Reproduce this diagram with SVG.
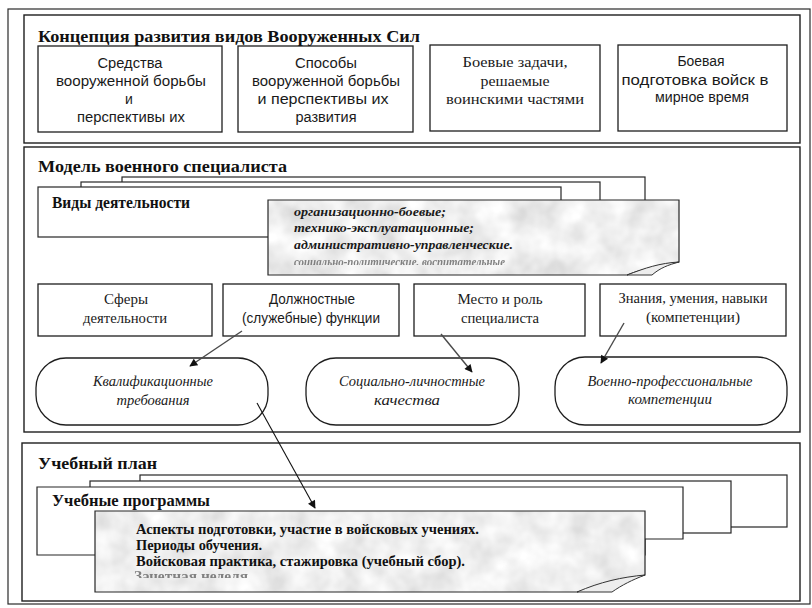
<svg xmlns="http://www.w3.org/2000/svg" width="812" height="608" viewBox="0 0 812 608">
<defs>
<style>
.frame{fill:none;stroke:#2a2a2a;stroke-width:1.2}
.sec{fill:#fff;stroke:#1e1e1e;stroke-width:1.4}
.box{fill:#fff;stroke:#1e1e1e;stroke-width:1.3}
.card{fill:#fff;stroke:#262626;stroke-width:1.2}
.gray{fill:#000;filter:url(#tex)}
.gout{fill:none;stroke:#262626;stroke-width:1.2}
.flap{fill:#ededed;stroke:#333;stroke-width:1}
.h{font-family:"Liberation Serif","Times New Roman",serif;font-weight:bold;font-size:16px;fill:#111}
.sn{font-family:"Liberation Sans",Arial,sans-serif;font-size:14px;fill:#1a1a1a;text-anchor:middle}
.sr{font-family:"Liberation Serif","Times New Roman",serif;font-size:15px;fill:#1a1a1a;text-anchor:middle}
.it{font-family:"Liberation Serif","Times New Roman",serif;font-style:italic;font-size:14px;fill:#1a1a1a;text-anchor:middle}
.gi{font-family:"Liberation Serif","Times New Roman",serif;font-style:italic;font-weight:bold;font-size:13px;fill:#1a1a1a}
.gb{font-family:"Liberation Serif","Times New Roman",serif;font-weight:bold;font-size:14px;fill:#111}
.faint{fill:#666;opacity:0.8}
.conn{fill:none;stroke:#4a4a4a;stroke-width:1.4}
.conn2{fill:none;stroke:#111;stroke-width:1.1}
</style>
<filter id="tex" x="0" y="0" width="1" height="1">
<feTurbulence type="fractalNoise" baseFrequency="0.035" numOctaves="3" seed="5" result="n"/>
<feColorMatrix in="n" type="matrix" values="0.45 0 0 0 0.64  0.45 0 0 0 0.64  0.45 0 0 0 0.64  0 0 0 0 1" result="g"/>
<feComposite in="g" in2="SourceGraphic" operator="in"/>
</filter>
<clipPath id="c1"><rect x="268" y="200" width="411" height="65"/></clipPath>
<clipPath id="c2"><rect x="95" y="511" width="551" height="67"/></clipPath>
<marker id="ah" viewBox="0 0 10 10" refX="9" refY="5" markerWidth="11" markerHeight="8" markerUnits="userSpaceOnUse" orient="auto">
<path d="M0,0 L10,5 L0,10 z" fill="#111"/>
</marker>
</defs>
<rect width="812" height="608" fill="#fff"/>
<rect class="frame" x="8" y="9" width="802" height="595"/>

<g id="section-concept">
<rect class="sec" x="24" y="15" width="776" height="128"/>
<text class="h" x="38" y="42" textLength="382" lengthAdjust="spacingAndGlyphs">Концепция развития видов Вооруженных Сил</text>
</g>
<g id="node-sredstva">
<rect class="box" x="38" y="46" width="184" height="86"/>
<text class="sn" x="130" y="68" textLength="65" lengthAdjust="spacingAndGlyphs">Средства</text>
<text class="sn" x="131" y="86" textLength="150" lengthAdjust="spacingAndGlyphs">вооруженной борьбы</text>
<text class="sn" x="129" y="104">и</text>
<text class="sn" x="131" y="122" textLength="108" lengthAdjust="spacingAndGlyphs">перспективы их</text>
</g>
<g id="node-sposoby">
<rect class="box" x="238" y="46" width="175" height="86"/>
<text class="sn" x="326" y="68" textLength="62" lengthAdjust="spacingAndGlyphs">Способы</text>
<text class="sn" x="326" y="86" textLength="148" lengthAdjust="spacingAndGlyphs">вооруженной борьбы</text>
<text class="sn" x="323" y="104" textLength="131" lengthAdjust="spacingAndGlyphs">и перспективы их</text>
<text class="sn" x="326" y="122" textLength="61" lengthAdjust="spacingAndGlyphs">развития</text>
</g>
<g id="node-zadachi">
<rect class="box" x="430" y="45" width="170" height="86"/>
<text class="sr" x="515" y="67" textLength="105" lengthAdjust="spacingAndGlyphs">Боевые задачи,</text>
<text class="sr" x="515" y="86" textLength="69" lengthAdjust="spacingAndGlyphs">решаемые</text>
<text class="sr" x="515" y="104" textLength="138" lengthAdjust="spacingAndGlyphs">воинскими частями</text>
</g>
<g id="node-podgotovka">
<rect class="box" x="618" y="45" width="169" height="86"/>
<text class="sn" x="701" y="66" textLength="47" lengthAdjust="spacingAndGlyphs">Боевая</text>
<text class="sn" x="695" y="85" textLength="147" lengthAdjust="spacingAndGlyphs">подготовка войск в</text>
<text class="sn" x="702" y="102" textLength="94" lengthAdjust="spacingAndGlyphs">мирное время</text>
</g>

<g id="section-model">
<rect class="sec" x="24" y="147" width="776" height="285"/>
<text class="h" x="38" y="172" textLength="249" lengthAdjust="spacingAndGlyphs">Модель военного специалиста</text>
</g>
<g id="node-vidy">
<rect class="card" x="122" y="177" width="523" height="53"/>
<rect class="card" x="81" y="182" width="519" height="51"/>
<rect class="card" x="38" y="187" width="523" height="50"/>
<text class="h" x="52" y="208" font-size="14" textLength="138" lengthAdjust="spacingAndGlyphs">Виды деятельности</text>
<path class="gray" d="M268,200 H679 V262 C660,265 640,270 627,275 H268 Z"/>
<path class="gout" d="M268,200 H679 V262 C660,265 640,270 627,275 H268 Z"/>
<path class="flap" d="M627,275 C645,268 660,263 679,262 C668,265 660,268 652,275 Z"/>
<text class="gi" x="294" y="216" textLength="152" lengthAdjust="spacingAndGlyphs">организационно-боевые;</text>
<text class="gi" x="294" y="232" textLength="180" lengthAdjust="spacingAndGlyphs">технико-эксплуатационные;</text>
<text class="gi" x="294" y="249" textLength="219" lengthAdjust="spacingAndGlyphs">административно-управленческие.</text>
<g clip-path="url(#c1)"><text class="gi faint" x="294" y="266" font-size="11" textLength="211" lengthAdjust="spacingAndGlyphs">социально-политические, воспитательные</text></g>
</g>
<g id="node-sfery">
<rect class="box" x="38" y="284" width="174" height="52"/>
<text class="sr" x="126" y="304" textLength="44" lengthAdjust="spacingAndGlyphs">Сферы</text>
<text class="sr" x="125" y="323" textLength="84" lengthAdjust="spacingAndGlyphs">деятельности</text>
</g>
<g id="node-funkcii">
<rect class="box" x="223" y="284" width="176" height="52"/>
<text class="sn" x="312" y="304" textLength="86" lengthAdjust="spacingAndGlyphs">Должностные</text>
<text class="sn" x="311" y="323" textLength="138" lengthAdjust="spacingAndGlyphs">(служебные) функции</text>
</g>
<g id="node-mesto">
<rect class="box" x="414" y="284" width="171" height="52"/>
<text class="sr" x="500" y="304" textLength="85" lengthAdjust="spacingAndGlyphs">Место и роль</text>
<text class="sr" x="500" y="323" textLength="78" lengthAdjust="spacingAndGlyphs">специалиста</text>
</g>
<g id="node-znaniya">
<rect class="box" x="600" y="284" width="186" height="52"/>
<text class="sr" x="693" y="303" textLength="149" lengthAdjust="spacingAndGlyphs">Знания, умения, навыки</text>
<text class="sr" x="693" y="322" textLength="94" lengthAdjust="spacingAndGlyphs">(компетенции)</text>
</g>
<g id="node-kvalif">
<rect class="box" x="36" y="358" width="232" height="67" rx="30" ry="30"/>
<text class="it" x="153" y="386" textLength="120" lengthAdjust="spacingAndGlyphs">Квалификационные</text>
<text class="it" x="153" y="405" textLength="73" lengthAdjust="spacingAndGlyphs">требования</text>
</g>
<g id="node-socialno">
<rect class="box" x="306" y="358" width="213" height="67" rx="30" ry="30"/>
<text class="it" x="412" y="386" textLength="146" lengthAdjust="spacingAndGlyphs">Социально-личностные</text>
<text class="it" x="407" y="405" textLength="66" lengthAdjust="spacingAndGlyphs">качества</text>
</g>
<g id="node-kompetencii">
<rect class="box" x="555" y="357" width="232" height="68" rx="30" ry="30"/>
<text class="it" x="670" y="386" textLength="165" lengthAdjust="spacingAndGlyphs">Военно-профессиональные</text>
<text class="it" x="670" y="404" textLength="84" lengthAdjust="spacingAndGlyphs">компетенции</text>
</g>

<g id="section-plan">
<rect class="sec" x="22" y="443" width="778" height="158"/>
<text class="h" x="38" y="469" textLength="119" lengthAdjust="spacingAndGlyphs">Учебный план</text>
</g>
<g id="node-programmy">
<rect class="card" x="140" y="475" width="647" height="52"/>
<rect class="card" x="90" y="481" width="641" height="52"/>
<path class="card" d="M37,487 H683 V539 H645 V555 H37 Z"/>
<text class="h" x="52" y="506" font-size="14" textLength="158" lengthAdjust="spacingAndGlyphs">Учебные программы</text>
<path class="gray" d="M95,511 H645 V575 C625,580 600,587 577,592 H95 Z"/>
<path class="gout" d="M95,511 H645 V575 C625,580 600,587 577,592 H95 Z"/>
<path class="flap" d="M577,592 C600,582 622,577 645,575 C632,580 622,585 612,592 Z"/>
<text class="gb" x="136" y="534" textLength="343" lengthAdjust="spacingAndGlyphs">Аспекты подготовки, участие в войсковых учениях.</text>
<text class="gb" x="136" y="550" textLength="126" lengthAdjust="spacingAndGlyphs">Периоды обучения.</text>
<text class="gb" x="136" y="566" textLength="329" lengthAdjust="spacingAndGlyphs">Войсковая практика, стажировка (учебный сбор).</text>
<g clip-path="url(#c2)"><text class="gb faint" x="134" y="581" font-size="10" textLength="114" lengthAdjust="spacingAndGlyphs">Зачетная неделя</text></g>
</g>

<g id="connectors">
<line class="conn" x1="242" y1="331" x2="190" y2="366" marker-end="url(#ah)"/>
<line class="conn" x1="441" y1="334" x2="472" y2="372" marker-end="url(#ah)"/>
<line class="conn" x1="624" y1="323" x2="601" y2="363" marker-end="url(#ah)"/>
<line class="conn2" x1="257" y1="403" x2="315" y2="508" marker-end="url(#ah)"/>
</g>
</svg>
